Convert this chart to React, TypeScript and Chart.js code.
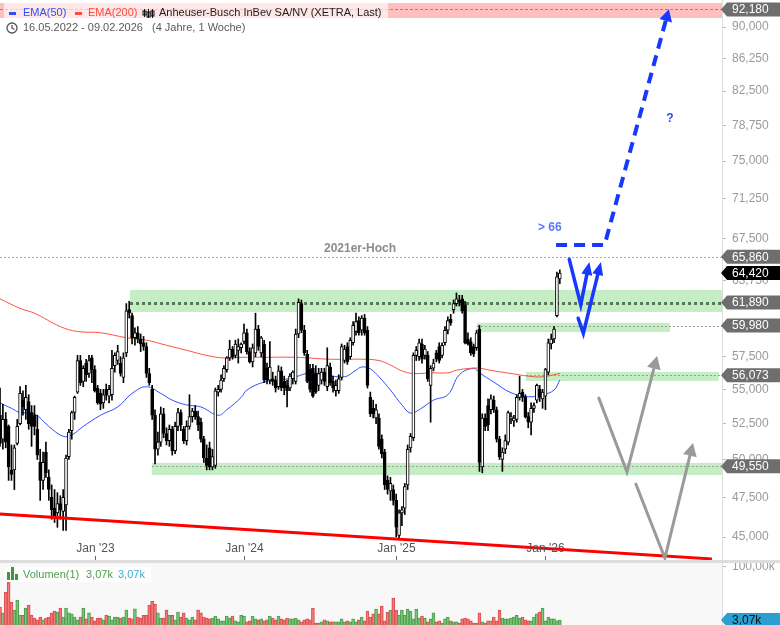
import React, { useEffect, useRef } from "react";
import { Chart, registerables } from "chart.js";

Chart.register(...registerables);

const FONT = '"Liberation Sans", Arial, Helvetica, sans-serif';

// ---------------- data (weekly candles, 16.05.2022 - 09.02.2026) ----------------
const OPEN = [
  53.1, 51.4, 52.8, 52.3, 49.3, 49.3, 51.1, 52.5, 54.2, 53.5,
  54.1, 53.3, 53.1, 52.1, 49.8, 48.6, 50.5, 48.8, 47.5, 46.8,
  46.5, 47.1, 46.6, 47.0, 50.2, 52.0, 53.3, 54.8, 57.2, 55.6,
  57.0, 56.2, 57.4, 56.5, 55.1, 54.7, 54.0, 55.0, 54.5, 54.6,
  56.8, 57.2, 57.0, 55.9, 57.8, 61.3, 60.8, 59.0, 59.4, 58.9,
  58.6, 58.3, 56.2, 55.0, 53.1, 50.7, 51.2, 53.2, 51.8, 51.3,
  52.1, 50.6, 52.3, 53.3, 52.1, 51.3, 52.3, 53.0, 53.4, 53.0,
  52.6, 51.4, 50.1, 50.8, 49.5, 49.6, 54.8, 55.0, 55.8, 56.5,
  57.4, 58.1, 57.6, 58.0, 58.2, 58.7, 59.4, 57.9, 57.1, 57.8,
  59.7, 57.8, 58.5, 56.6, 55.7, 55.8, 55.7, 55.2, 56.4, 55.6,
  55.3, 55.1, 55.8, 55.6, 59.3, 61.8, 59.6, 57.7, 56.5, 56.6,
  56.2, 55.3, 55.7, 56.3, 55.2, 56.7, 55.6, 54.9, 54.9, 55.9,
  57.2, 58.3, 57.5, 58.6, 59.5, 60.4, 59.6, 60.6, 59.6, 54.4,
  53.6, 52.9, 52.9, 51.4, 50.5, 48.6, 47.9, 48.0, 47.3, 45.1,
  46.5, 46.8, 48.3, 50.8, 51.5, 57.6, 57.5, 58.5, 57.6, 57.6,
  55.3, 56.6, 57.8, 58.3, 57.6, 58.6, 59.6, 60.5, 61.3, 61.8,
  62.1, 62.2, 61.7, 58.9, 58.7, 58.3, 58.2, 59.7, 49.5, 52.9,
  53.8, 53.5, 54.2, 53.5, 51.4, 50.0, 50.7, 51.2, 52.9, 52.7,
  52.8, 54.4, 54.8, 54.4, 53.0, 52.6, 53.6, 54.2, 55.0, 54.3,
  54.5, 56.3, 58.5, 58.9, 60.8, 63.9,
];
const HIGH = [
  55.1, 53.9, 53.3, 52.4, 51.0, 51.0, 52.8, 55.2, 54.9, 55.3,
  54.6, 53.8, 53.8, 53.1, 50.7, 50.5, 51.2, 49.3, 48.3, 48.0,
  47.8, 47.6, 48.0, 50.3, 52.1, 53.4, 54.5, 57.6, 57.6, 56.8,
  57.3, 57.6, 57.6, 56.8, 55.3, 55.0, 55.0, 55.4, 55.3, 58.0,
  57.8, 58.4, 57.5, 57.8, 61.8, 62.0, 61.0, 59.8, 59.9, 59.3,
  59.1, 58.6, 56.6, 55.3, 53.5, 51.9, 53.7, 53.6, 52.2, 52.4,
  52.3, 52.6, 53.6, 53.5, 52.3, 52.7, 54.6, 53.6, 53.8, 53.4,
  52.9, 51.6, 51.0, 51.2, 50.7, 55.1, 55.3, 56.1, 56.8, 57.5,
  58.8, 58.3, 58.8, 58.9, 58.6, 60.1, 59.7, 58.2, 58.5, 61.0,
  60.0, 59.1, 58.8, 57.0, 58.7, 56.3, 56.0, 56.8, 56.7, 56.0,
  55.7, 56.2, 56.4, 59.7, 62.2, 62.1, 60.0, 58.0, 56.9, 56.9,
  56.8, 56.6, 56.6, 56.6, 58.2, 57.0, 56.0, 55.7, 56.1, 58.5,
  58.4, 58.6, 59.0, 60.3, 61.0, 60.7, 60.8, 60.9, 59.9, 54.8,
  54.2, 53.9, 53.2, 51.7, 50.7, 48.9, 48.8, 48.3, 47.7, 46.7,
  46.9, 48.4, 51.0, 51.8, 57.8, 58.3, 58.9, 58.9, 58.4, 57.9,
  56.8, 57.3, 58.0, 58.6, 58.6, 59.9, 60.7, 60.9, 62.1, 62.7,
  62.5, 62.5, 62.0, 59.4, 59.0, 58.5, 59.6, 60.0, 53.2, 53.2,
  54.3, 54.6, 54.5, 53.7, 51.6, 50.8, 51.7, 53.4, 53.3, 53.1,
  54.6, 56.0, 55.0, 54.6, 53.3, 54.0, 54.0, 55.4, 55.3, 55.0,
  56.6, 58.9, 59.3, 59.9, 64.5, 64.7,
];
const LOW = [
  50.9, 50.7, 50.8, 48.6, 48.6, 48.0, 51.0, 52.4, 53.1, 52.8,
  52.1, 50.9, 51.7, 50.0, 47.3, 48.0, 48.8, 47.3, 46.1, 45.9,
  45.6, 46.1, 45.4, 45.4, 50.0, 51.4, 52.8, 54.7, 55.3, 55.2,
  55.6, 55.9, 55.5, 54.8, 53.9, 53.5, 53.6, 54.2, 54.0, 54.2,
  56.3, 56.9, 56.0, 55.5, 57.5, 60.6, 58.5, 58.4, 58.6, 57.9,
  58.0, 55.9, 55.3, 52.8, 49.7, 50.3, 50.9, 51.5, 51.0, 50.9,
  50.3, 50.4, 52.0, 52.0, 51.1, 51.0, 52.1, 52.6, 52.8, 52.0,
  51.2, 49.8, 49.3, 49.3, 49.3, 49.4, 54.5, 54.8, 55.6, 56.3,
  57.2, 57.3, 57.4, 57.0, 57.8, 58.5, 57.7, 57.0, 56.7, 57.5,
  58.0, 57.5, 55.5, 55.4, 55.4, 55.3, 54.8, 55.0, 54.9, 54.6,
  53.7, 54.9, 55.4, 55.4, 59.0, 59.4, 57.6, 55.5, 54.8, 54.4,
  54.7, 54.9, 55.4, 55.3, 54.9, 55.3, 54.8, 54.5, 54.7, 55.7,
  57.0, 56.9, 57.3, 58.4, 59.2, 59.2, 59.2, 59.2, 55.1, 53.0,
  52.9, 52.5, 50.7, 50.1, 48.0, 47.7, 47.3, 47.0, 45.0, 44.9,
  45.7, 46.4, 48.0, 50.5, 51.3, 57.2, 57.2, 57.0, 57.3, 55.6,
  52.6, 56.4, 57.1, 57.0, 57.4, 58.4, 59.3, 60.0, 61.0, 61.6,
  61.6, 61.0, 58.5, 58.4, 57.6, 57.5, 58.0, 49.2, 49.1, 52.0,
  52.0, 53.2, 53.3, 51.2, 50.0, 49.2, 50.4, 51.0, 52.5, 52.3,
  52.6, 54.2, 54.1, 52.9, 52.2, 51.7, 53.3, 54.0, 54.1, 53.6,
  53.5, 56.1, 58.1, 58.6, 60.7, 63.5,
];
const CLOSE = [
  51.1, 52.8, 51.2, 49.5, 49.0, 50.8, 52.3, 54.7, 53.7, 54.4,
  52.5, 52.3, 52.3, 50.3, 48.6, 49.8, 49.1, 48.0, 46.7, 46.3,
  47.1, 46.7, 47.5, 50.1, 51.9, 53.3, 54.4, 57.2, 55.5, 56.6,
  56.1, 57.2, 56.5, 54.9, 54.0, 53.9, 54.6, 54.6, 55.0, 56.6,
  57.6, 57.9, 56.2, 57.4, 61.2, 61.0, 59.0, 59.4, 58.9, 58.5,
  58.3, 56.2, 55.5, 53.1, 50.7, 51.2, 53.2, 51.8, 51.3, 52.1,
  50.6, 52.3, 53.3, 52.4, 51.3, 52.3, 53.0, 53.4, 53.0, 52.4,
  51.4, 50.1, 49.6, 49.5, 50.2, 54.9, 55.0, 55.7, 56.6, 57.4,
  58.1, 57.5, 58.5, 58.3, 58.5, 59.4, 57.9, 57.1, 58.2, 59.7,
  58.3, 59.0, 55.7, 55.7, 56.7, 55.6, 55.1, 56.4, 55.1, 55.1,
  54.9, 56.0, 56.3, 59.3, 61.9, 59.6, 57.8, 55.6, 55.0, 54.5,
  54.8, 56.2, 56.3, 55.6, 56.8, 55.5, 55.1, 55.3, 55.8, 58.3,
  58.1, 57.1, 58.8, 60.0, 60.3, 59.4, 60.6, 59.4, 55.3, 53.2,
  53.2, 53.5, 50.9, 50.4, 48.3, 48.0, 48.4, 47.3, 45.6, 46.5,
  46.7, 48.2, 50.7, 51.6, 57.6, 58.0, 58.6, 57.3, 58.1, 55.8,
  56.6, 57.0, 57.3, 57.2, 58.4, 59.6, 60.4, 60.2, 61.8, 62.2,
  61.9, 61.2, 58.6, 58.5, 57.8, 57.7, 59.4, 49.8, 52.9, 52.3,
  52.4, 54.3, 53.5, 51.4, 50.2, 50.5, 51.3, 53.3, 53.0, 52.9,
  54.4, 54.7, 54.4, 53.0, 52.6, 53.6, 53.8, 55.3, 54.4, 54.8,
  56.5, 58.6, 58.9, 59.7, 64.1, 64.42,
];
// weekly volume in thousands
const VOLUME = [
  7.2, 4.9, 19.3, 37, 10, 5.9, 11.4, 4.2, 4.2, 6.7,
  8.2, 4.2, 3.5, 3.1, 3.7, 3.1, 3.5, 3.7, 4.9, 5.5,
  5.2, 6.7, 3.7, 6.7, 4.9, 4.6, 3.7, 3.1, 3.7, 6.7,
  3.3, 4.9, 3.7, 2.9, 3.5, 3.5, 3.1, 4.2, 4.0, 3.1,
  3.7, 3.7, 3.5, 3.7, 5.9, 3.5, 3.3, 6.4, 3.7, 3.5,
  4.2, 4.2, 8.0, 10.5, 8.6, 4.9, 3.5, 3.5, 5.9, 4.2,
  4.2, 3.1, 5.2, 3.7, 4.9, 3.5, 3.1, 3.7, 3.1, 5.9,
  4.9, 3.7, 3.5, 3.3, 3.5, 4.0, 3.3, 2.9, 2.9, 4.0,
  3.5, 4.0, 2.9, 2.7, 4.2, 4.0, 2.7, 2.9, 4.0, 3.3,
  3.1, 3.3, 2.9, 3.1, 4.0, 3.5, 3.1, 4.0, 3.3, 3.1,
  3.5, 3.3, 3.3, 3.5, 3.1, 2.7, 3.1, 3.3, 3.1, 6.7,
  2.5, 2.5, 2.7, 3.1, 2.9, 2.7, 2.7, 2.7, 2.7, 3.3,
  2.7, 2.9, 2.7, 3.3, 2.7, 3.1, 3.7, 2.9, 5.5, 3.7,
  4.6, 6.3, 4.6, 7.7, 2.9, 5.2, 5.9, 13, 5.9, 4.2,
  5.9, 4.2, 6.3, 5.5, 3.3, 6.3, 3.5, 4.0, 3.5, 2.7,
  3.3, 4.9, 2.7, 2.9, 2.5, 3.3, 3.7, 2.9, 2.7, 2.7,
  2.5, 3.3, 3.5, 3.3, 2.9, 2.5, 2.5, 4.9, 2.7, 2.5,
  2.9, 2.9, 3.7, 2.9, 5.9, 3.5, 3.3, 3.3, 3.5, 3.7,
  4.2, 3.5, 3.7, 3.1, 2.9, 2.9, 3.7, 4.6, 5.2, 6.7,
  2.9, 3.7, 3.3, 3.3, 2.9, 3.07,
];
// EMA readings (week index -> value)
const EMA50_X = [0, 4, 7, 12, 17, 22, 25, 29, 35, 41, 46, 51, 56, 60, 65, 70, 76, 79, 84, 86, 92, 98, 103, 108, 113, 120, 124, 126, 129, 132, 136, 140, 143, 146, 151, 156, 160, 165, 167, 172, 178, 184, 189, 193, 195];
const EMA50_Y = [54.0, 53.6, 53.3, 53.2, 52.3, 51.6, 51.7, 52.3, 53.1, 53.7, 54.7, 55.2, 54.7, 54.2, 53.85, 53.7, 53.1, 53.5, 54.4, 54.95, 55.55, 55.7, 55.95, 56.25, 56.1, 55.95, 56.45, 56.7, 56.55, 55.95, 54.95, 53.85, 53.25, 53.5, 54.2, 54.6, 56.1, 56.6, 56.25, 55.55, 54.75, 54.45, 54.6, 54.95, 55.7];
const EMA200_X = [0, 7, 12, 21, 27, 35, 44, 51, 58, 65, 72, 78, 84, 92, 103, 115, 126, 132, 136, 140, 144, 150, 156, 159, 164, 167, 172, 178, 184, 189, 195];
const EMA200_Y = [62.2, 61.4, 61.0, 59.9, 59.5, 59.4, 59.0, 58.8, 58.4, 58.0, 57.6, 57.4, 57.45, 57.45, 57.45, 57.3, 57.3, 57.2, 56.85, 56.4, 56.2, 56.25, 56.25, 56.45, 56.6, 56.6, 56.4, 56.2, 56.0, 55.95, 56.2];
const TREND_X = [0, 248];
const TREND_Y = [46.43, 43.68];

const X_TICKS = [33, 85, 138, 190];
const X_TICK_LABELS = ["Jan '23", "Jan '24", "Jan '25", "Jan '26"];
const Y_TICKS = [45, 47.5, 50, 52.5, 55, 57.5, 60, 63.75, 67.5, 71.25, 75, 78.75, 82.5, 86.25, 90];
const LEVELS = [92.18, 65.86, 61.89, 59.98, 56.073, 49.55];
const LAST_PRICE = 64.42;
const VOL_TICKS = [100];
const LAST_VOLUME = 3.07;

// ---------------- layout / style constants ----------------
const X_MIN = 0;
const X_MAX = 251.5;
const Y_MIN = 43.617;
const Y_MAX = 93.364;
const V_MIN = 2.21;
const V_MAX = 158.4;
const AXIS_W = 58;

const GREEN_BAND = "rgba(140,222,140,0.5)";
const BANDS = [
  { lo: 91.11, hi: 92.98, from: X_MIN, to: X_MAX, color: "rgba(255,0,0,0.25)" },
  { lo: 61.1, hi: 62.96, from: 45.3, to: X_MAX, color: GREEN_BAND },
  { lo: 59.45, hi: 60.2, from: 166.1, to: 233.4, color: GREEN_BAND },
  { lo: 55.63, hi: 56.32, from: 183.2, to: 250.4, color: GREEN_BAND },
  { lo: 48.96, hi: 49.77, from: 52.9, to: X_MAX, color: GREEN_BAND },
];
const LINES = [
  { v: LEVELS[0], from: X_MIN, dash: [3, 2], color: "rgba(190,110,110,0.9)", w: 1 },
  { v: LEVELS[1], from: X_MIN, dash: [2, 2], color: "#aaaaaa", w: 1 },
  { v: LEVELS[2], from: 45.3, dash: [3, 3], color: "#557a55", w: 3 },
  { v: LEVELS[3], from: 166.1, dash: [2, 2], color: "#9a9a9a", w: 1 },
  { v: LEVELS[4], from: 183.2, dash: [2, 2], color: "#9a9a9a", w: 1 },
  { v: LEVELS[5], from: 52.9, dash: [2, 2], color: "#9a9a9a", w: 1 },
];
const BLUE = "#1638ff";
const GREY_ARROW = "#9a9a9a";
const ARROWS = [
  { pts: [[193.7, 66.93], [210.6, 66.93], [233.0, 92.2]], color: BLUE, w: 4, dash: [11, 7], hl: 12, hw: 6.5 },
  { pts: [[198.3, 65.63], [202.3, 61.69], [205.3, 65.4]], color: BLUE, w: 3.5, dash: [], hl: 13, hw: 5.5 },
  { pts: [[201.4, 60.58], [203.2, 59.36], [209.3, 65.4]], color: BLUE, w: 3.5, dash: [], hl: 13, hw: 5.5 },
  { pts: [[208.6, 54.35], [218.4, 49.16], [228.9, 57.55]], color: GREY_ARROW, w: 3, dash: [], hl: 13, hw: 7 },
  { pts: [[221.5, 48.36], [231.6, 43.73], [241.4, 51.13]], color: GREY_ARROW, w: 3, dash: [], hl: 13, hw: 7 },
];

const fmtPrice = (v: number) => v.toFixed(3).replace(".", ",");
const fmtVol = (v: number) => v.toFixed(2).replace(".", ",") + "k";

function badge(ctx: any, y: number, text: string, bg: string, fg: string) {
  const x0 = 721;
  const h = 14;
  ctx.save();
  ctx.beginPath();
  ctx.moveTo(x0, y);
  ctx.lineTo(x0 + 6, y - h / 2);
  ctx.lineTo(780, y - h / 2);
  ctx.lineTo(780, y + h / 2);
  ctx.lineTo(x0 + 6, y + h / 2);
  ctx.closePath();
  ctx.fillStyle = bg;
  ctx.fill();
  ctx.fillStyle = fg;
  ctx.font = `12px ${FONT}`;
  ctx.textBaseline = "middle";
  ctx.textAlign = "left";
  ctx.fillText(text, 732, y + 0.5);
  ctx.restore();
}

function drawArrow(ctx: any, pts: number[][], color: string, w: number, dash: number[], hl: number, hw: number) {
  const n = pts.length;
  const [tx, ty] = pts[n - 1];
  const [px, py] = pts[n - 2];
  const ang = Math.atan2(ty - py, tx - px);
  const bx = tx - hl * Math.cos(ang);
  const by = ty - hl * Math.sin(ang);
  ctx.save();
  ctx.strokeStyle = color;
  ctx.fillStyle = color;
  ctx.lineWidth = w;
  ctx.setLineDash(dash);
  ctx.lineJoin = "miter";
  ctx.lineCap = dash.length ? "butt" : "round";
  ctx.beginPath();
  ctx.moveTo(pts[0][0], pts[0][1]);
  for (let i = 1; i < n - 1; i++) ctx.lineTo(pts[i][0], pts[i][1]);
  ctx.lineTo(bx, by);
  ctx.stroke();
  ctx.setLineDash([]);
  ctx.beginPath();
  ctx.moveTo(tx, ty);
  ctx.lineTo(bx + hw * Math.sin(ang), by - hw * Math.cos(ang));
  ctx.lineTo(bx - hw * Math.sin(ang), by + hw * Math.cos(ang));
  ctx.closePath();
  ctx.fill();
  ctx.restore();
}

const mainPlugin = {
  id: "mainDeco",
  beforeDatasetsDraw(chart: any) {
    const { ctx, chartArea: a } = chart;
    const x = chart.scales.x;
    const y = chart.scales.y;
    ctx.save();
    ctx.beginPath();
    ctx.rect(a.left, a.top, a.right - a.left, a.bottom - a.top);
    ctx.clip();
    for (const b of BANDS) {
      const x0 = x.getPixelForValue(b.from);
      const x1 = x.getPixelForValue(b.to);
      const y0 = y.getPixelForValue(b.hi);
      const y1 = y.getPixelForValue(b.lo);
      ctx.fillStyle = b.color;
      ctx.fillRect(x0, y0, x1 - x0, y1 - y0);
    }
    for (const l of LINES) {
      const yy = Math.round(y.getPixelForValue(l.v)) + 0.5;
      ctx.beginPath();
      ctx.setLineDash(l.dash);
      ctx.lineWidth = l.w;
      ctx.strokeStyle = l.color;
      ctx.moveTo(x.getPixelForValue(l.from), yy);
      ctx.lineTo(a.right, yy);
      ctx.stroke();
    }
    ctx.setLineDash([]);
    ctx.fillStyle = "#8c8c8c";
    ctx.font = `bold 12px ${FONT}`;
    ctx.textAlign = "center";
    ctx.textBaseline = "middle";
    ctx.fillText("2021er-Hoch", x.getPixelForValue(125.4), y.getPixelForValue(LEVELS[1]) - 8);
    ctx.restore();
  },
  afterDatasetsDraw(chart: any) {
    const { ctx } = chart;
    const x = chart.scales.x;
    const y = chart.scales.y;
    for (const ar of ARROWS) {
      const pts = ar.pts.map((p) => [x.getPixelForValue(p[0]), y.getPixelForValue(p[1])]);
      drawArrow(ctx, pts, ar.color, ar.w, ar.dash, ar.hl, ar.hw);
    }
    ctx.save();
    ctx.font = `bold 12px ${FONT}`;
    ctx.textBaseline = "middle";
    ctx.textAlign = "left";
    ctx.fillStyle = "#5a78ff";
    ctx.fillText("> 66", x.getPixelForValue(187.4), y.getPixelForValue(68.48));
    ctx.fillStyle = "#2a4ae8";
    ctx.textAlign = "center";
    ctx.fillText("?", x.getPixelForValue(233.4), y.getPixelForValue(79.42));
    ctx.restore();
  },
  afterDraw(chart: any) {
    const { ctx, chartArea: a } = chart;
    const x = chart.scales.x;
    const y = chart.scales.y;
    // x axis labels inside the plot
    ctx.save();
    ctx.font = `12px ${FONT}`;
    ctx.fillStyle = "#555555";
    ctx.textAlign = "center";
    ctx.textBaseline = "middle";
    ctx.strokeStyle = "#666666";
    ctx.lineWidth = 1;
    X_TICKS.forEach((t, k) => {
      const px = Math.round(x.getPixelForValue(t)) + 0.5;
      ctx.fillText(X_TICK_LABELS[k], px, a.bottom - 11);
      ctx.beginPath();
      ctx.moveTo(px, a.bottom - 4);
      ctx.lineTo(px, a.bottom);
      ctx.stroke();
    });
    ctx.restore();
    // price badges
    LEVELS.forEach((v) => badge(ctx, y.getPixelForValue(v), fmtPrice(v), "#6e6e6e", "#ffffff"));
    badge(ctx, y.getPixelForValue(LAST_PRICE), fmtPrice(LAST_PRICE), "#000000", "#ffffff");
    // legend
    ctx.save();
    ctx.fillStyle = "rgba(255,255,255,0.62)";
    ctx.fillRect(4, 3, 384, 17);
    ctx.font = `11px ${FONT}`;
    ctx.textBaseline = "middle";
    ctx.textAlign = "left";
    ctx.fillStyle = "#2d50ff";
    ctx.fillRect(9, 12, 7, 3);
    ctx.fillText("EMA(50)", 23, 13);
    ctx.fillStyle = "#ff4a3d";
    ctx.fillRect(75, 12, 7, 3);
    ctx.fillText("EMA(200)", 88, 13);
    // candle icon
    ctx.strokeStyle = "#111";
    ctx.fillStyle = "#111";
    ctx.lineWidth = 1;
    [[144.5, 9, 17, 11, 15], [148.5, 9, 18, 12, 17], [152.5, 9, 18, 11, 16]].forEach(([cx, t, b, bt, bb]) => {
      ctx.beginPath();
      ctx.moveTo(cx, t);
      ctx.lineTo(cx, b);
      ctx.stroke();
      ctx.strokeRect(cx - 1.5, bt, 3, bb - bt);
    });
    ctx.fillStyle = "#222222";
    ctx.fillText("Anheuser-Busch InBev SA/NV (XETRA, Last)", 159, 13);
    // row 2
    ctx.strokeStyle = "#555";
    ctx.lineWidth = 1.3;
    ctx.beginPath();
    ctx.arc(12, 28, 5, 0, Math.PI * 2);
    ctx.stroke();
    ctx.beginPath();
    ctx.moveTo(12, 25);
    ctx.lineTo(12, 28);
    ctx.lineTo(14.5, 29.5);
    ctx.stroke();
    ctx.fillStyle = "#5a5a5a";
    ctx.fillText("16.05.2022 - 09.02.2026", 23, 28);
    ctx.fillText("(4 Jahre, 1 Woche)", 152, 28);
    ctx.restore();
  },
};

const volPlugin = {
  id: "volDeco",
  beforeDatasetsDraw(chart: any) {
    const { ctx, chartArea: a } = chart;
    ctx.save();
    ctx.fillStyle = "#f8f8f8";
    ctx.fillRect(a.left, a.top, a.right - a.left, a.bottom - a.top);
    ctx.restore();
  },
  afterDraw(chart: any) {
    const { ctx } = chart;
    const y = chart.scales.y;
    ctx.save();
    ctx.fillStyle = "#dddddd";
    ctx.fillRect(0, 0, 780, 3);
    // legend
    ctx.fillStyle = "rgba(255,255,255,0.85)";
    ctx.fillRect(4, 7, 147, 15);
    ctx.fillStyle = "#3f963f";
    ctx.fillRect(7, 12, 3, 8);
    ctx.fillRect(11, 7, 3, 13);
    ctx.fillRect(15, 14, 3, 6);
    ctx.font = `11px ${FONT}`;
    ctx.textBaseline = "middle";
    ctx.textAlign = "left";
    ctx.fillStyle = "#4e9e4e";
    ctx.fillText("Volumen(1)", 23, 14.5);
    ctx.fillText(fmtVol(LAST_VOLUME), 86, 14.5);
    ctx.fillStyle = "#3fa9d8";
    ctx.fillText(fmtVol(LAST_VOLUME), 118, 14.5);
    ctx.restore();
    badge(ctx, y.getPixelForValue(LAST_VOLUME), fmtVol(LAST_VOLUME), "#2a9fd0", "#111111");
  },
};

function rightAxis(min: number, max: number, ticks: number[], fmt: (v: number) => string) {
  return {
    type: "logarithmic",
    position: "right",
    min,
    max,
    afterBuildTicks: (s: any) => {
      s.ticks = ticks.map((v) => ({ value: v }));
    },
    afterFit: (s: any) => {
      s.width = AXIS_W;
      s.paddingTop = 0;
      s.paddingBottom = 0;
    },
    ticks: {
      color: "#9a9a9a",
      font: { size: 12, family: FONT },
      padding: 6,
      autoSkip: false,
      callback: (v: any) => fmt(Number(v)),
    },
    grid: { drawOnChartArea: false, tickLength: 4, color: "#bbbbbb" },
    border: { color: "#dddddd" },
  };
}

const xAxis = {
  type: "linear",
  min: X_MIN,
  max: X_MAX,
  display: false,
  offset: false,
  grid: { offset: false },
};

export default function App() {
  const mainRef = useRef<HTMLCanvasElement>(null);
  const volRef = useRef<HTMLCanvasElement>(null);

  useEffect(() => {
    Chart.defaults.font.family = FONT;
    const idx = OPEN.map((_, i) => i);
    const up = idx.map((i) => CLOSE[i] >= OPEN[i]);

    const main = new Chart(mainRef.current as HTMLCanvasElement, {
      type: "bar",
      data: {
        datasets: [
          {
            type: "line",
            data: EMA50_X.map((x, k) => ({ x, y: EMA50_Y[k] })),
            borderColor: "#2d50ff",
            borderWidth: 1,
            pointRadius: 0,
            tension: 0.4,
            order: 6,
          } as any,
          {
            type: "line",
            data: EMA200_X.map((x, k) => ({ x, y: EMA200_Y[k] })),
            borderColor: "#ff5040",
            borderWidth: 1,
            pointRadius: 0,
            tension: 0.4,
            order: 5,
          } as any,
          {
            type: "bar",
            data: idx.map((i) => ({ x: i, y: [LOW[i], HIGH[i]] })),
            backgroundColor: "#000000",
            borderWidth: 0,
            barThickness: 1,
            grouped: false,
            order: 3,
          } as any,
          {
            type: "bar",
            data: idx.map((i) => ({ x: i, y: [OPEN[i], CLOSE[i]] })),
            backgroundColor: up.map((u) => (u ? "#ffffff" : "#000000")),
            borderColor: "#000000",
            borderWidth: 1,
            borderSkipped: false,
            barThickness: 3,
            grouped: false,
            order: 2,
          } as any,
          {
            type: "line",
            data: TREND_X.map((x, k) => ({ x, y: TREND_Y[k] })),
            borderColor: "#ff0000",
            borderWidth: 3,
            pointRadius: 0,
            order: 1,
          } as any,
        ],
      },
      options: {
        responsive: false,
        animation: false,
        devicePixelRatio: 1,
        events: [],
        layout: { padding: 0 },
        plugins: { legend: { display: false }, tooltip: { enabled: false } },
        scales: {
          x: xAxis as any,
          y: rightAxis(Y_MIN, Y_MAX, Y_TICKS, fmtPrice) as any,
        },
      },
      plugins: [mainPlugin],
    });

    const vol = new Chart(volRef.current as HTMLCanvasElement, {
      type: "bar",
      data: {
        datasets: [
          {
            data: idx.map((i) => ({ x: i, y: VOLUME[i] })),
            backgroundColor: up.map((u) => (u ? "rgba(120,200,120,0.75)" : "rgba(240,120,120,0.8)")),
            borderColor: up.map((u) => (u ? "#4f9e4f" : "#dd4f4f")),
            borderWidth: 1,
            borderSkipped: "start",
            barThickness: 3,
            grouped: false,
          } as any,
        ],
      },
      options: {
        responsive: false,
        animation: false,
        devicePixelRatio: 1,
        events: [],
        layout: { padding: 0 },
        plugins: { legend: { display: false }, tooltip: { enabled: false } },
        scales: {
          x: xAxis as any,
          y: rightAxis(V_MIN, V_MAX, VOL_TICKS, fmtVol) as any,
        },
      },
      plugins: [volPlugin],
    });

    return () => {
      main.destroy();
      vol.destroy();
    };
  }, []);

  return (
    <div style={{ position: "fixed", left: 0, top: 0, width: 780, height: 625, overflow: "hidden", background: "#ffffff" }}>
      <canvas ref={mainRef} width={780} height={560} style={{ position: "absolute", left: 0, top: 0, width: 780, height: 560 }} />
      <canvas ref={volRef} width={780} height={65} style={{ position: "absolute", left: 0, top: 560, width: 780, height: 65 }} />
    </div>
  );
}
